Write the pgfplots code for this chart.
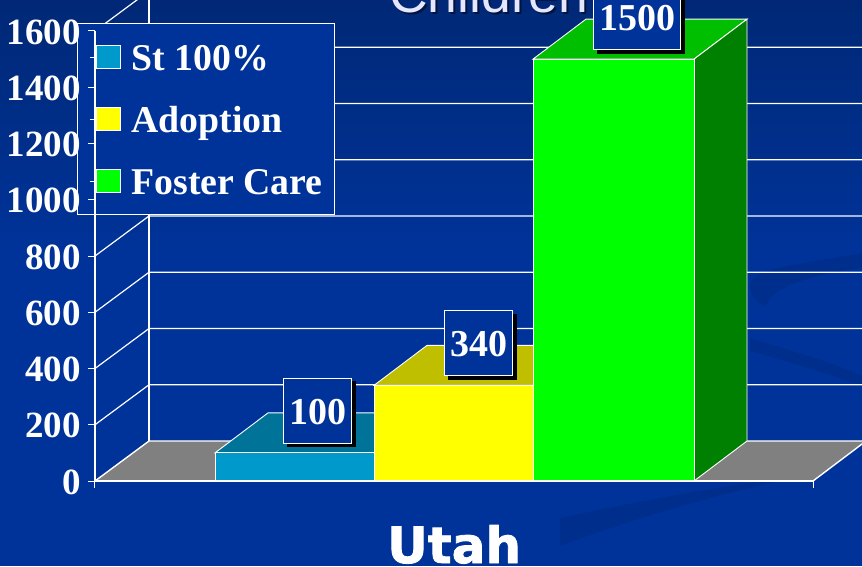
\documentclass[border=0pt]{standalone}
\usepackage{pgfplots}
\pgfplotsset{compat=1.18}
\usepackage{fontspec}
\setmainfont{Liberation Serif}
\newfontfamily\titlefont{Liberation Sans}
\newfontfamily\utahfont[BoldFeatures={FakeBold=1.6}]{DejaVu Sans}
\definecolor{bgtop}{RGB}{0,40,118}
\definecolor{bgmain}{RGB}{0,51,153}
\definecolor{bgdark}{RGB}{0,46,140}
\definecolor{stfront}{RGB}{0,153,204}
\definecolor{sttop}{RGB}{0,115,153}
\definecolor{adfront}{RGB}{255,255,0}
\definecolor{adtop}{RGB}{191,191,0}
\definecolor{fofront}{RGB}{0,255,0}
\definecolor{fotop}{RGB}{0,191,0}
\definecolor{foside}{RGB}{0,128,0}
\definecolor{floorc}{RGB}{128,128,128}
\definecolor{titlec}{RGB}{230,230,255}
\pgfplotsset{
  base/.style={
    at={(95pt,85pt)},anchor=south west,scale only axis,width=718pt,height=450pt,
    xmin=95,xmax=813,ymin=0,ymax=1600,clip=false},
  swatch/.style={legend image code/.code={
    \path (0pt,0pt) -- (30pt,0pt);
    \draw[white,line width=0.8pt,fill=#1] (6pt,-11.5pt) rectangle (30pt,11.5pt);}},
}
\begin{document}
\begin{tikzpicture}[x=1pt,y=1pt]
\path[use as bounding box,clip] (0,0) rectangle (862,566);
% background
\fill[bgmain] (0,0) rectangle (862,566);
\shade[top color=bgtop,bottom color=bgmain] (0,316) rectangle (862,566);
\fill[bgdark] (560,20) .. controls (640,50) and (720,72) .. (800,90) .. controls (720,80) and (640,65) .. (560,48) -- cycle;
\fill[bgdark] (862,313) .. controls (800,302) and (752,298) .. (750,281) .. controls (750,270) and (758,262) .. (766,259) .. controls (768,275) and (800,290) .. (862,298) -- cycle;
\fill[bgdark] (750,228) .. controls (790,215) and (830,205) .. (862,190) -- (862,180) .. controls (820,195) and (785,205) .. (750,215) -- cycle;
\fill[bgdark] (748,125) .. controls (760,112) and (762,100) .. (748,88) -- cycle;
% chart body
\begin{axis}[base,axis lines=none,
  legend cell align=left,
  legend style={at={(axis cs:77,1626.7)},anchor=north west,draw=white,line width=0.9pt,fill=bgmain,
    text=white,font=\fontsize{37.8}{37.8}\selectfont\bfseries,
    inner xsep=12pt,inner ysep=11.75pt,
    nodes={inner sep=0pt,text height=35pt,text depth=8pt},
    /tikz/every even column/.style={column sep=11pt},
    /tikz/row sep=19pt,/tikz/column sep=11pt},
]
% floor
\addplot[forget plot,draw=white,line width=1.4pt,fill=floorc] coordinates {(95,0) (149,142.2) (866,142.2) (813,0)} --cycle;
% back wall
\addplot[forget plot,white,line width=1.2pt] coordinates {(149,1742.2) (149,142.2)};
\addplot[forget plot,white,line width=1.2pt] coordinates {(95,200) (149,342.2) (866,342.2)};
\addplot[forget plot,white,line width=1.2pt] coordinates {(95,400) (149,542.2) (866,542.2)};
\addplot[forget plot,white,line width=1.2pt] coordinates {(95,600) (149,742.2) (866,742.2)};
\addplot[forget plot,white,line width=1.2pt] coordinates {(95,800) (149,942.2) (866,942.2)};
\addplot[forget plot,white,line width=1.2pt] coordinates {(95,1000) (149,1142.2) (866,1142.2)};
\addplot[forget plot,white,line width=1.2pt] coordinates {(95,1200) (149,1342.2) (866,1342.2)};
\addplot[forget plot,white,line width=1.2pt] coordinates {(95,1400) (149,1542.2) (866,1542.2)};
\addplot[forget plot,white,line width=1.2pt] coordinates {(95,1600) (149,1742.2) (866,1742.2)};
% St 100%
\addplot[forget plot,draw=white,line width=0.9pt,fill=sttop] coordinates {(215,100) (268,242.2) (427,242.2) (374,100)} --cycle;
\addplot[ybar,bar width=159pt,bar shift=0pt,draw=white,line width=0.9pt,fill=stfront,swatch=stfront] coordinates {(294.5,100)};
\addlegendentry{St 100\%}
% Adoption
\addplot[forget plot,draw=white,line width=0.9pt,fill=adtop] coordinates {(374,340) (427,482.2) (586,482.2) (533,340)} --cycle;
\addplot[ybar,bar width=159pt,bar shift=0pt,draw=white,line width=0.9pt,fill=adfront,swatch=adfront] coordinates {(453.5,340)};
\addlegendentry{Adoption}
% Foster Care
\addplot[forget plot,draw=white,line width=0.9pt,fill=fotop] coordinates {(533,1500) (586,1642.2) (747,1642.2) (694,1500)} --cycle;
\addplot[forget plot,draw=white,line width=0.9pt,fill=foside] coordinates {(694,1500) (747,1642.2) (747,142.2) (694,0)} --cycle;
\addplot[ybar,bar width=161pt,bar shift=0pt,draw=white,line width=0.9pt,fill=fofront,swatch=fofront] coordinates {(613.5,1500)};
\addlegendentry{Foster Care}
\end{axis}
% axes, ticks, value labels
\begin{axis}[base,
  axis lines=left,axis line style={white,line width=1.4pt,-},
  y axis line style={line width=1.1pt},
  tick style={white,line width=1pt},
  major tick length=7pt,tick align=outside,
  xtick={95,813},xticklabels={,},
  ytick={0,200,400,600,800,1000,1200,1400,1600},
  yticklabel style={text=white,font=\fontsize{37}{37}\selectfont\bfseries,
    /pgf/number format/assume math mode=true,/pgf/number format/1000 sep={},inner sep=0pt,xshift=-7pt,yshift=-1pt},
]
\addplot[draw=none,forget plot] coordinates {(95,0) (813,1600)};
\tikzset{vbox/.style={inner sep=0pt,minimum height=65pt,text=white,font=\fontsize{38}{38}\selectfont\bfseries}}
\node[fill=black,minimum width=69pt,minimum height=66pt] at (axis cs:321,237) {};
\node[vbox,draw=white,line width=0.9pt,fill=bgmain,minimum width=68pt] at (axis cs:317,250.7) {\raisebox{-14pt}[0pt][0pt]{\hspace{1pt}100}};
\node[fill=black,minimum width=69pt,minimum height=66pt] at (axis cs:482,477) {};
\node[vbox,draw=white,line width=0.9pt,fill=bgmain,minimum width=68pt] at (axis cs:478,490.7) {\raisebox{-13.5pt}[0pt][0pt]{\hspace{1pt}340}};
\node[fill=black,minimum width=88pt,minimum height=66pt] at (axis cs:641,1636) {};
\node[vbox,draw=white,line width=0.9pt,fill=bgmain,minimum width=87pt] at (axis cs:637,1650) {\raisebox{-13.5pt}[0pt][0pt]{\hspace{1pt}1500}};
\end{axis}
% title (cut off by the top of the picture) and category name
\node[anchor=base west,inner sep=0pt,text=black!60!bgmain,font=\titlefont\fontsize{53.5}{53.5}\selectfont] at (391,551) {Children};
\node[anchor=base west,inner sep=0pt,text=titlec,font=\titlefont\fontsize{53.5}{53.5}\selectfont] at (389,553) {Children};
\node[anchor=base west,inner sep=0pt,text=white,font=\utahfont\bfseries\fontsize{50}{50}\selectfont] at (387,3) {Utah};
\end{tikzpicture}
\end{document}
